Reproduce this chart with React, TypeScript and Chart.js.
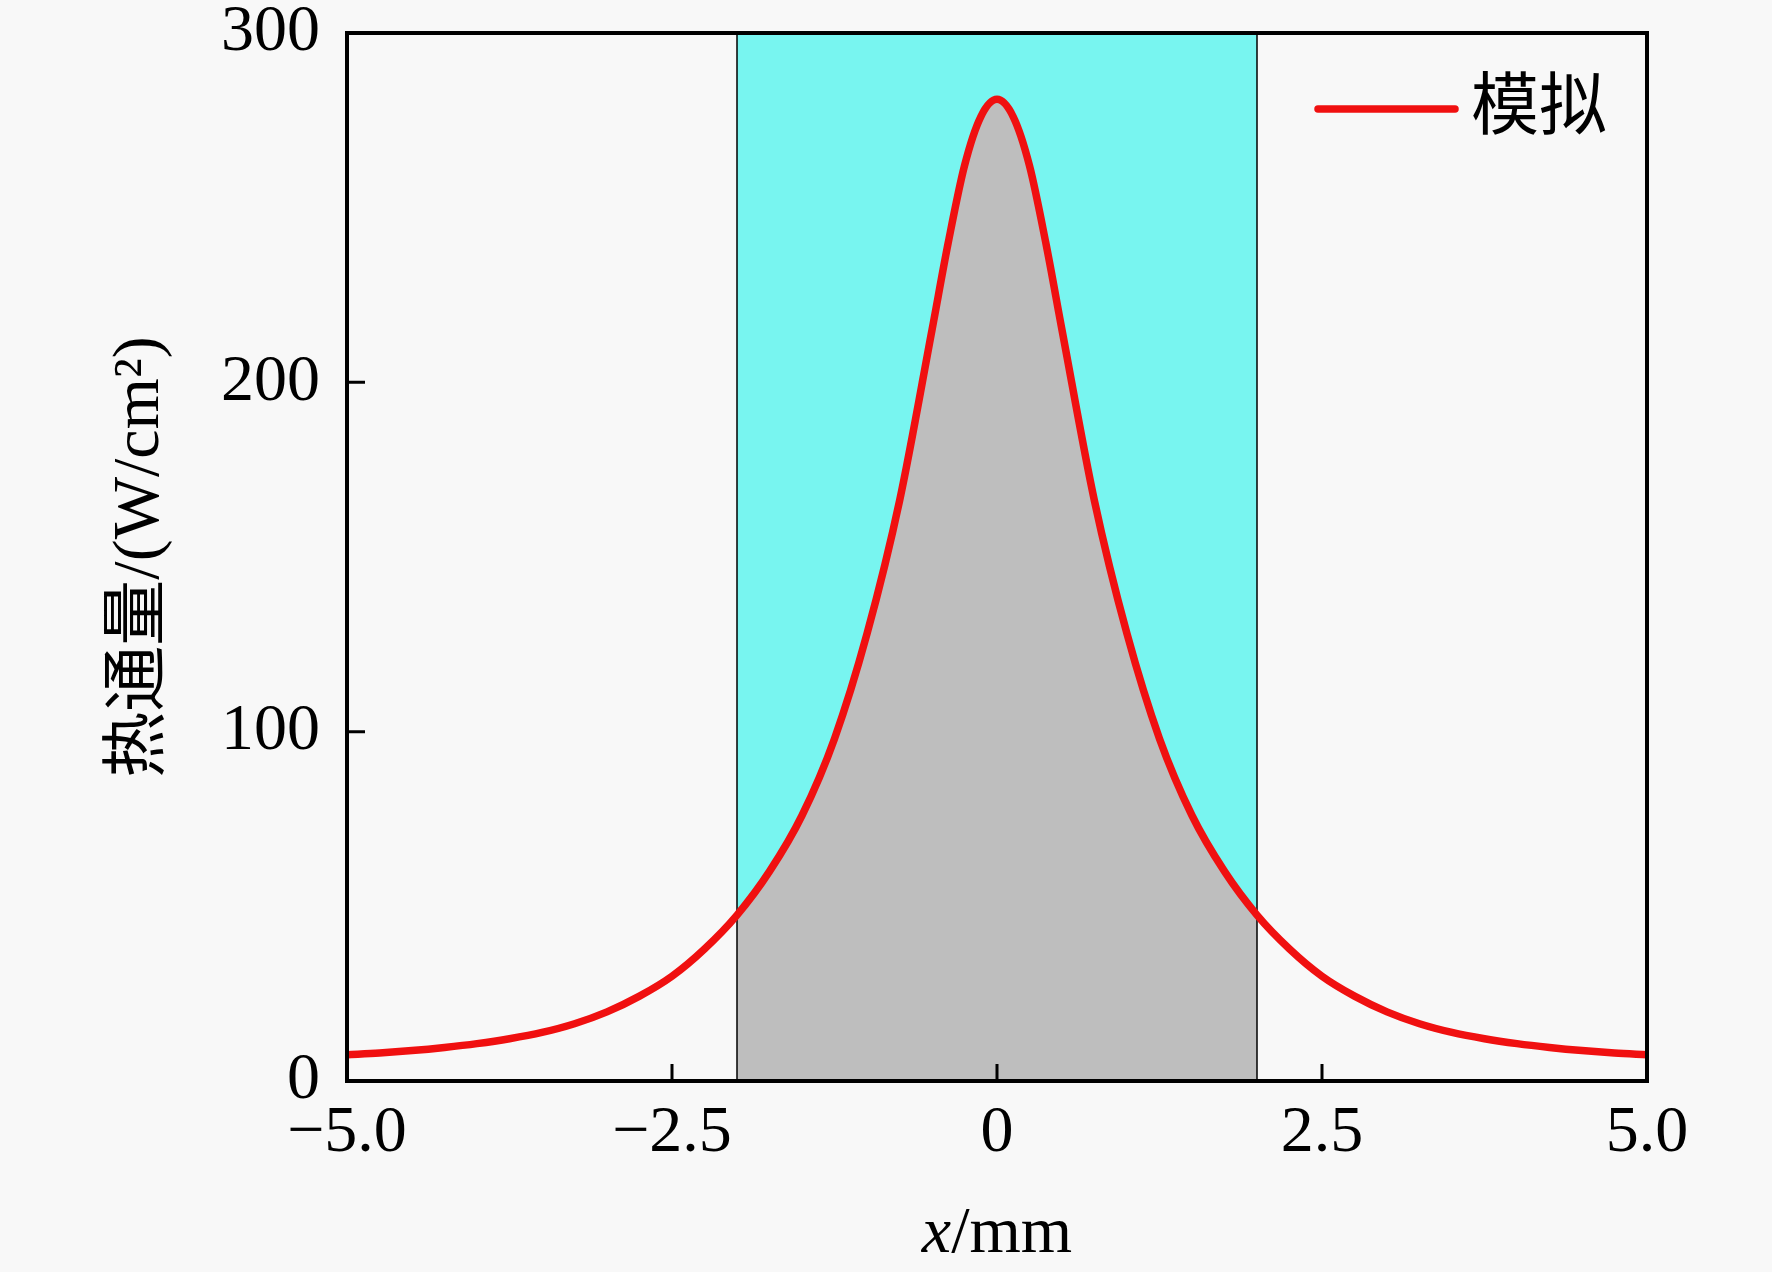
import React, { useEffect, useRef } from "react";
import { Chart, registerables, Plugin } from "chart.js";

Chart.register(...registerables);

// x positions (mm) and simulated heat flux (W/cm²)
const xPositions = [
  -5.0, -4.75, -4.5, -4.25, -4.0, -3.75, -3.5, -3.25, -3.0, -2.75, -2.5, -2.25,
  -2.0, -1.75, -1.5, -1.25, -1.0, -0.75, -0.5, -0.375, -0.25, -0.125, 0,
  0.125, 0.25, 0.375, 0.5, 0.75, 1.0, 1.25, 1.5, 1.75, 2.0, 2.25, 2.5, 2.75,
  3.0, 3.25, 3.5, 3.75, 4.0, 4.25, 4.5, 4.75, 5.0,
];
const heatFlux = [
  7.5, 8.0, 8.7, 9.6, 10.7, 12.1, 13.9, 16.4, 19.8, 24.3, 30.0, 37.8,
  47.5, 60, 76, 98, 128, 166, 215, 240, 262, 276, 281,
  276, 262, 240, 215, 166, 128, 98, 76, 60, 47.5, 37.8, 30.0, 24.3,
  19.8, 16.4, 13.9, 12.1, 10.7, 9.6, 8.7, 8.0, 7.5,
];

// shaded band limits (mm)
const bandStart = -2;
const bandEnd = 2;

const xTicks = [-5, -2.5, 0, 2.5, 5];
const yTicks = [0, 100, 200, 300];

const seriesLabel = "模拟";
const xTitleItalic = "x";
const xTitleRest = "/mm";
const yTitle = "热通量/(W/cm²)";

const FONT = '"Liberation Serif", "Times New Roman", "Noto Sans CJK SC", serif';

const fmtX = (v: number) =>
  v === 0 ? "0" : (v < 0 ? "\u2212" : "") + Math.abs(v).toFixed(1);

// frame, inward ticks, legend and x title
const decorations: Plugin<"line"> = {
  id: "decorations",
  beforeDraw(chart) {
    const { ctx, width, height } = chart;
    ctx.save();
    ctx.fillStyle = "#f8f8f8";
    ctx.fillRect(0, 0, width, height);
    ctx.restore();
  },
  afterDatasetsDraw(chart) {
    const { ctx, chartArea } = chart;
    const xs = chart.scales.x;
    const ys = chart.scales.y;
    ctx.save();
    ctx.strokeStyle = "#000";
    ctx.lineWidth = 3;
    ctx.beginPath();
    xTicks.slice(1, -1).forEach((v) => {
      const px = xs.getPixelForValue(v);
      ctx.moveTo(px, chartArea.bottom);
      ctx.lineTo(px, chartArea.bottom - 17);
    });
    yTicks.slice(1, -1).forEach((v) => {
      const py = ys.getPixelForValue(v);
      ctx.moveTo(chartArea.left, py);
      ctx.lineTo(chartArea.left + 18, py);
    });
    ctx.stroke();
    ctx.lineWidth = 4;
    ctx.strokeRect(
      chartArea.left,
      chartArea.top,
      chartArea.right - chartArea.left,
      chartArea.bottom - chartArea.top
    );
    ctx.restore();
  },
  afterDraw(chart) {
    const { ctx, chartArea } = chart;
    ctx.save();
    // legend
    ctx.strokeStyle = "#f01010";
    ctx.lineWidth = 7.5;
    ctx.lineCap = "round";
    ctx.beginPath();
    ctx.moveTo(chartArea.right - 329, chartArea.top + 76);
    ctx.lineTo(chartArea.right - 192, chartArea.top + 76);
    ctx.stroke();
    ctx.fillStyle = "#000";
    ctx.font = `68px ${FONT}`;
    ctx.textBaseline = "middle";
    ctx.fillText(seriesLabel, chartArea.right - 176, chartArea.top + 78);
    // x title with italic variable
    ctx.textBaseline = "alphabetic";
    ctx.font = `italic 66px ${FONT}`;
    const w1 = ctx.measureText(xTitleItalic).width;
    ctx.font = `66px ${FONT}`;
    const w2 = ctx.measureText(xTitleRest).width;
    const cx = (chartArea.left + chartArea.right) / 2;
    const x0 = cx - (w1 + w2) / 2;
    ctx.font = `italic 66px ${FONT}`;
    ctx.fillText(xTitleItalic, x0, 1252);
    ctx.font = `66px ${FONT}`;
    ctx.fillText(xTitleRest, x0 + w1, 1252);
    ctx.restore();
  },
};

const App: React.FC = () => {
  const canvasRef = useRef<HTMLCanvasElement | null>(null);

  useEffect(() => {
    document.body.style.margin = "0";
    const ctx = canvasRef.current?.getContext("2d");
    if (!ctx) return;

    const curve = xPositions.map((x, i) => ({ x, y: heatFlux[i] }));
    const underBand = curve.filter((p) => p.x >= bandStart && p.x <= bandEnd);

    const chart = new Chart(ctx, {
      type: "line",
      data: {
        datasets: [
          {
            label: seriesLabel,
            data: curve,
            borderColor: "#f01010",
            borderWidth: 7.5,
            pointRadius: 0,
            cubicInterpolationMode: "monotone",
            fill: false,
            order: 0,
          },
          {
            label: "edge-left",
            data: [
              { x: bandStart, y: 0 },
              { x: bandStart, y: 300 },
            ],
            borderColor: "#000",
            borderWidth: 1.5,
            pointRadius: 0,
            fill: false,
            order: 1,
          },
          {
            label: "edge-right",
            data: [
              { x: bandEnd, y: 0 },
              { x: bandEnd, y: 300 },
            ],
            borderColor: "#000",
            borderWidth: 1.5,
            pointRadius: 0,
            fill: false,
            order: 1,
          },
          {
            label: "area",
            data: underBand,
            borderWidth: 0,
            pointRadius: 0,
            cubicInterpolationMode: "monotone",
            backgroundColor: "#bebebe",
            fill: "origin",
            order: 2,
          },
          {
            label: "band",
            data: [
              { x: bandStart, y: 300 },
              { x: bandEnd, y: 300 },
            ],
            borderWidth: 0,
            pointRadius: 0,
            backgroundColor: "#78f5f0",
            fill: "origin",
            order: 3,
          },
        ],
      },
      options: {
        responsive: false,
        animation: false,
        devicePixelRatio: 1,
        layout: {
          autoPadding: false,
          padding: { top: 33, right: 125, left: 0, bottom: 0 },
        },
        plugins: {
          legend: { display: false },
          tooltip: { enabled: false },
        },
        scales: {
          x: {
            type: "linear",
            min: -5,
            max: 5,
            afterFit: (scale) => {
              scale.height = 191;
              scale.paddingLeft = 0;
              scale.paddingRight = 0;
            },
            afterBuildTicks: (scale) => {
              scale.ticks = xTicks.map((v) => ({ value: v }));
            },
            grid: { display: false, drawTicks: false },
            border: { display: false },
            ticks: {
              padding: 13,
              color: "#000",
              font: { family: FONT, size: 66 },
              maxRotation: 0,
              callback: (v) => fmtX(Number(v)),
            },
          },
          y: {
            min: 0,
            max: 300,
            afterFit: (scale) => {
              scale.width = 347;
              scale.paddingTop = 0;
              scale.paddingBottom = 0;
            },
            afterBuildTicks: (scale) => {
              scale.ticks = yTicks.map((v) => ({ value: v }));
            },
            grid: { display: false, drawTicks: false },
            border: { display: false },
            ticks: {
              padding: 27,
              color: "#000",
              font: { family: FONT, size: 66 },
              callback: (v) => String(v),
            },
            title: {
              display: true,
              text: yTitle,
              color: "#000",
              font: { family: FONT, size: 66 },
              padding: { top: 101, bottom: 0 },
            },
          },
        },
      },
      plugins: [decorations],
    });

    return () => {
      chart.destroy();
    };
  }, []);

  return (
    <div style={{ width: "1772px", height: "1272px" }}>
      <canvas ref={canvasRef} width={1772} height={1272} />
    </div>
  );
};

export default App;
